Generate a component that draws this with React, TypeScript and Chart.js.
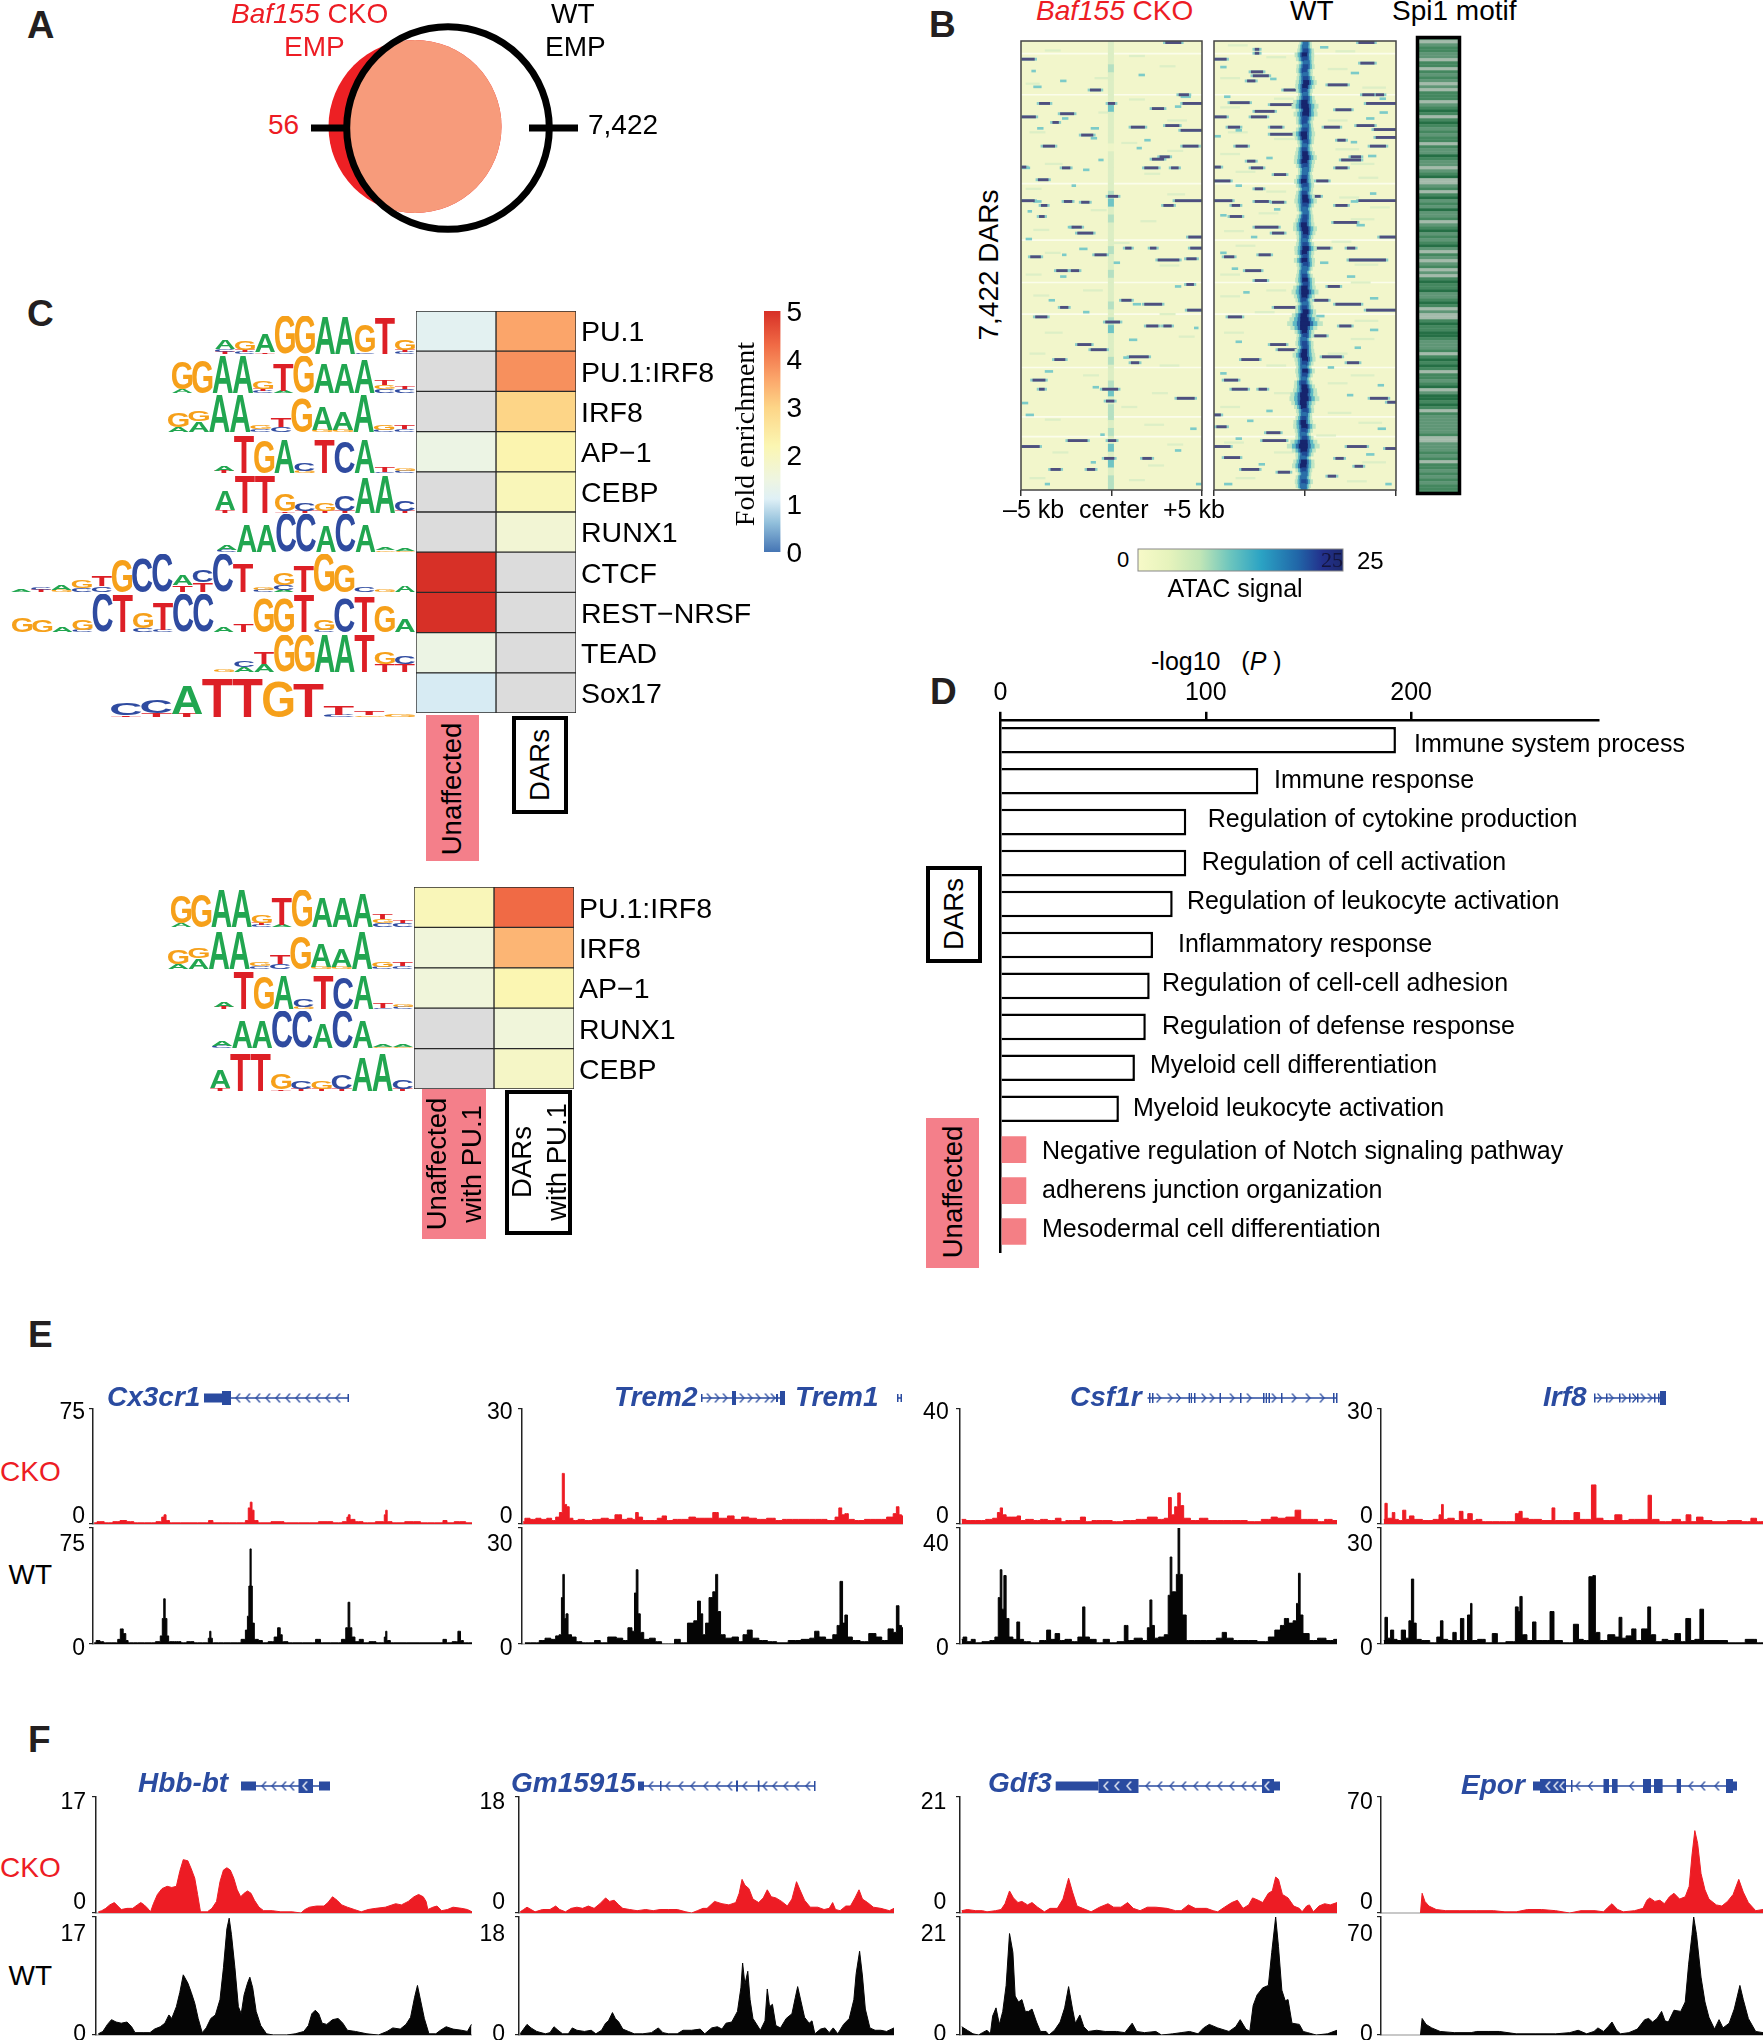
import React, { useEffect, useRef } from "react";
import { Chart, registerables } from "chart.js";
Chart.register(...registerables);

const SANS = '"Liberation Sans", Arial, sans-serif';
const SERIF = '"Liberation Serif", "Times New Roman", serif';
const RED = "#ED1C24";
const PINK = "#F47F8A";
const GENE = "#2A4BA0";
Chart.defaults.font.family = SANS;

/* ---------- A: overlap ---------- */
const vennCKO = { x: 115, y: 116.5, r: 86.5 };
const vennWT = { x: 148, y: 118, r: 101.3 };
const vennTickCKO = [[11, 118], [44, 118]];
const vennTickWT = [[229, 118], [278, 118]];

/* ---------- B: heatmap, in bins of the plot ---------- */
const ckoStreaks = [[108,615,655],[150,240,272],[228,418,445],[240,650,675],[262,285,312],[262,465,482],[262,660,708],[275,580,610],[288,340,375],[296,240,275],[310,320,335],[322,525,560],[318,615,650],[330,655,708],[342,395,425],[370,295,325],[370,660,700],[403,580,610],[397,600,625],[423,240,250],[425,345,365],[425,560,595],[425,630,648],[455,282,308],[497,465,490],[508,240,272],[510,350,370],[512,395,415],[520,610,635],[508,640,708],[520,290,305],[548,285,298],[575,370,395],[590,385,425],[600,675,708],[628,510,525],[628,575,590],[628,680,708],[645,430,460],[650,262,288],[658,595,650],[655,670,695],[685,330,358],[685,368,388],[720,670,688],[760,500,525],[770,560,605],[778,340,360],[785,672,708],[802,275,305],[815,458,495],[825,565,595],[825,610,630],[872,385,420],[885,420,460],[903,520,570],[910,325,352],[918,525,545],[962,268,300],[985,285,298],[985,450,490],[1008,645,690],[1015,460,480],[1115,360,410],[1115,465,485],[1130,240,285],[1160,455,480],[1160,555,578],[1188,315,340],[1188,410,430]];
const ckoDots = [[205,340,355],[180,265,275],[190,545,560],[220,270,290],[245,655,680],[270,640,655],[300,345,360],[325,280,295],[325,420,440],[350,420,435],[355,560,575],[375,540,552],[405,440,452],[425,240,260],[430,400,415],[470,370,380],[510,270,290],[535,255,265],[575,360,375],[605,250,265],[630,390,410],[645,345,355],[665,480,495],[700,340,355],[725,640,655],[760,310,325],[770,530,550],[790,400,415],[830,690,700],[860,520,540],[905,505,520],[940,300,320],[980,425,440],[1020,240,255],[1050,250,270],[1085,680,695],[1100,445,455],[1140,640,655],[1170,420,432],[1225,300,312],[1225,695,708]];
const ckoFaint = [[128,300,340],[142,520,560],[168,600,640],[198,430,470],[212,250,285],[252,520,560],[285,440,480],[305,620,670],[335,260,300],[362,500,540],[382,620,660],[415,300,345],[440,560,600],[478,250,290],[492,620,665],[532,420,460],[560,550,590],[582,270,310],[615,470,520],[640,300,340],[672,600,650],[695,250,290],[735,400,450],[748,270,310],[795,600,640],[842,300,345],[852,650,690],[895,260,300],[925,600,650],[950,400,440],[995,580,620],[1030,500,540],[1062,300,340],[1075,560,610],[1125,620,660],[1145,320,360],[1178,570,610],[1210,260,300],[1215,520,560]];
const ckoCenterLevels = [1,1,1,2,1,1,1,1,3,1,1,1,1,0,1,1,1,1,1,2,3,1,2,1,1,1,2,1,1,2,1,1,1,2,1,2,3,1,1,1,2,1,1,2,3,1,2,2,1,2,1,3,1,3,1,2,2];
const wtStreaks = [[108,1120,1160],[125,850,860],[135,850,860],[150,745,775],[160,1125,1160],[182,840,870],[192,845,885],[205,830,850],[215,1040,1090],[228,925,955],[240,1130,1160],[240,1165,1185],[260,785,835],[265,890,960],[262,1140,1215],[278,1060,1100],[282,850,900],[296,745,775],[296,840,880],[322,1030,1070],[318,1115,1160],[328,1160,1215],[322,780,810],[322,890,920],[340,890,960],[348,1165,1215],[355,1065,1085],[370,800,830],[370,1150,1190],[405,1075,1125],[397,1100,1125],[408,830,850],[423,745,760],[425,840,870],[425,1060,1090],[442,900,930],[458,745,785],[458,1010,1040],[478,850,870],[497,1000,1020],[508,745,790],[510,850,885],[512,895,925],[520,1060,1090],[508,1120,1215],[520,790,810],[548,785,815],[563,1055,1115],[575,850,910],[590,895,925],[600,1175,1215],[628,1000,1045],[628,1090,1110],[645,860,890],[650,770,795],[658,1095,1190],[685,825,865],[710,850,880],[725,1040,1070],[760,1005,1040],[770,1060,1125],[778,900,960],[785,1140,1215],[802,780,815],[815,955,1000],[825,1070,1100],[850,1005,1035],[872,890,930],[885,910,970],[903,1025,1075],[910,815,860],[918,1090,1120],[962,770,805],[985,790,830],[985,860,880],[1008,1150,1195],[1018,1195,1215],[1050,745,760],[1080,750,775],[1095,880,915],[1115,870,930],[1130,1090,1140],[1130,745,785],[1135,1190,1215],[1158,770,810],[1160,1060,1080],[1180,1110,1130],[1188,815,860],[1195,910,940],[1205,1040,1060]];
const wtDots = [[120,1020,1040],[170,760,775],[185,1100,1120],[200,890,905],[245,770,785],[250,1175,1190],[285,1175,1195],[300,1140,1160],[330,800,815],[345,745,760],[360,1100,1115],[395,1145,1165],[400,880,895],[470,800,815],[490,1150,1165],[510,1100,1118],[530,900,915],[545,760,775],[570,1115,1135],[600,840,855],[640,760,775],[665,1020,1040],[680,790,805],[700,1090,1110],[740,820,835],[755,1150,1170],[800,1010,1030],[835,1150,1170],[865,800,815],[880,1110,1125],[930,1040,1055],[945,760,775],[975,1170,1185],[1000,1090,1105],[1040,880,895],[1065,830,845],[1085,1170,1190],[1110,800,815],[1150,1140,1160],[1175,860,875],[1225,770,790],[1225,1190,1205]];
const wtFaint = [[115,780,830],[130,1060,1110],[145,880,930],[175,1040,1090],[198,760,810],[222,1130,1190],[250,900,950],[272,760,810],[305,1040,1090],[335,780,830],[352,900,950],[378,1060,1120],[390,760,810],[415,1100,1160],[435,800,850],[450,1120,1170],[485,880,930],[500,1070,1120],[525,1150,1200],[540,860,910],[555,1100,1160],[585,770,820],[612,1050,1100],[622,800,850],[670,1110,1170],[695,760,810],[715,1100,1150],[735,880,930],[750,760,810],[790,850,900],[812,1110,1170],[842,770,820],[858,1100,1160],[895,1040,1090],[925,880,930],[950,1100,1160],[970,1040,1090],[995,900,950],[1030,760,810],[1045,1040,1100],[1070,1120,1180],[1102,1010,1060],[1120,770,820],[1145,900,950],[1170,1130,1190],[1210,800,850],[1218,1090,1140]];
const wtCoreWidth = [8,9,11,13,12,10,12,11,10,12,14,13,11,9,12,15,18,14,16,12,11,10,12,15,13,11,9,11,13,15,14,12,10,9,11,13,12,10,11,13,15,12,10,9,11,12,14,16,13,11,10,12,15,13,11,14,12,10,9,11,13,12,15,18,14,11,10,12,14,16,20,24,18,13,11,10,12,11,13,15,14,12,10,13,11,9,12,14,16,18,20,16,13,12,10,11,13,15,12,10,12,18,22,16,12,10,14,15,11,9,10,12,10,8];
const wtCoreDrift = [1,0,1,-1,0,2,1,-1,0,1,2,0,-1,0,1,-1,0,2,1,0,-1,1,0,-2,-1,1,0,-1,0,1,-1,0,1,0,-1,-2,0,1,-1,0,1,0,-1,1,0,-1,-2,0,1,0,-1,0,1,-1,0,-1,1,0,-2,-1,0,1,-1,0,-1,-2,0,-1,1,-2,-1,0,-2,-1,0,-2,-1,0,-1,-2,0,-1,-2,0,-1,-2,-3,-1,0,-2,-1,-3,-2,0,-1,-2,-3,-1,-2,-3,-1,-2,-3,-2,-1,-3,-2,-3,-2,-1,-3,-2,-3,-2];
const paleRows = [136, 240, 465, 608, 715, 795, 930, 1055, 1105];
const motifRows = [2,3,2,1,1,2,2,3,1,1,3,1,2,1,2,3,2,3,1,1,1,3,2,1,0,1,3,1,0,1,2,1,2,1,1,3,1,2,2,0,1,2,2,3,2,1,0,3,3,2,1,3,1,0,2,1,2,0,2,2,1,3,2,1,0,2,1,2,1,0,2,3,1,2,3,2,1,3,2,3,1,0,1,1,0,2,2,1,0,1,3,2,3,3,1,0,1,1,0,0,1,2,2,2,1,3,1,0,1,0,1,3,1,1,2,1,0,3,2,0,0,1,0,1,3,1,2,2,2,2,2,2,1,3,3,2,2,2,1,2,1,3,1,1,2,1,2,1,2,1,1,1];
const motifColors = ["#256F45", "#44875F", "#5F9676", "#A4BBAB"];

/* ---------- C: enrichment ---------- */
const motifNames = ["PU.1","PU.1:IRF8","IRF8","AP−1","CEBP","RUNX1","CTCF","REST−NRSF","TEAD","Sox17"];
const unaffected = [1.2,null,null,1.45,null,null,5,5,1.45,1.05];
const dars = [3.6,3.85,3.0,2.25,2.1,1.7,null,null,null,null];
const motifNamesPU1 = ["PU.1:IRF8","IRF8","AP−1","RUNX1","CEBP"];
const unaffectedPU1 = [2.1,1.6,1.6,null,null];
const darsPU1 = [4.3,3.4,2.2,1.6,1.9];
const foldTicks = [0,1,2,3,4,5];

const logoPU1 = ["T5 C8 A22","C6 T5 G24","T4 A46","G100","G100","A100","A100","C4 G72","T95","C5 T6 G28"];
const logoPU1IRF8 = ["A10 G75","G90","A100","A100","C5 T5 G22","A5 T75","G100","A80","A82","A90","C10 G12 T15","C12 T8"];
const logoIRF8 = ["A12 G38","A28 G28","A100","A100","C8 G10","C14 T25","G90","G6 A62","G5 A48","A100","C6 G14","C8 T10"];
const logoAP1 = ["T5 A14","T100","G90","A90","G6 C22","T92","C85","A90","C4 T12","C5 G6"];
const logoCEBP = ["T8 A50","T100","T100","T4 G44","T6 C22","T6 G22","T6 C40","A92","A100","T5 C26"];
const logoRUNX1 = ["C6 A14","A72","A72","C100","C100","A68","C100","A72","G4 A6","G3 A5"];
const logoCTCF = ["A7","T5 C5","G5 A12","C10 G20","C15 T28","G85","C90","C100","T18 A28","T25 C30","C100","T75","C6 G6","A6 C12 G30","T68","G100","G72","C12","G5","A18"];
const logoREST = ["G38","G32","A14","C6 G28","C100","T100","C10 G42","C5 T70","C100","C100","A12","T20","G90","G90","T100","C5 G28","C90","T92","G68","A35"];
const logoTEAD = ["G6","A14 C16","A22 T30","G100","G100","A100","A100","T100","T22 G30","T22 C20"];
const logoSox17 = ["T4 C30","T10 C35","T8 A72","T100","T100","G90","T85","C5 T22","G4 T10","G5"];
const baseColors = { A: "#21A650", C: "#2F4BA0", G: "#F6A01A", T: "#DD1F26" };

/* ---------- D: enrichment of terms ---------- */
const goTerms = ["Immune system process","Immune response","Regulation of cytokine production","Regulation of cell activation","Regulation of leukocyte activation","Inflammatory response","Regulation of cell-cell adhesion","Regulation of defense response","Myeloid cell differentiation","Myeloid leukocyte activation","Negative regulation of Notch signaling pathway","adherens junction organization","Mesodermal cell differentiation"];
const goValues = [192.6,125.6,90.5,90.5,83.9,74.3,72.7,70.8,65.5,57.7,12.6,12.6,12.6];
const goTicks = [0,100,200];
const goLabelX = [1414,1274,1207.7,1201.7,1186.9,1178,1162,1162,1150,1133,1042,1042,1042];
const goLabelBase = [752,788,827,870,908.6,952,991,1034,1072.8,1116,1159,1198,1237];

/* ---------- E: signal, percent of scale, against bin ---------- */
const cx3cr1CKO = [[165,1],[175,2],[190,1],[205,2],[215,3],[228,2],[240,1],[265,1],[280,2],[285,6],[288,8],[292,3],[300,1],[330,1],[360,1],[368,3],[375,1],[400,1],[425,1],[431,3],[435,14],[438,19],[441,12],[445,3],[455,1],[490,2],[500,1],[540,1],[570,2],[590,1],[603,2],[606,6],[608,8],[612,4],[625,2],[640,1],[668,2],[671,8],[673,12],[676,2],[690,1],[720,2],[745,1],[768,1],[775,3],[782,1],[800,2],[822,1]];
const cx3cr1WT = [[165,1],[172,3],[178,2],[185,1],[204,1],[208,4],[213,13],[218,9],[222,3],[226,1],[240,1],[265,1],[278,2],[282,7],[285,22],[287,39],[290,22],[293,7],[296,2],[305,2],[312,2],[320,1],[332,2],[345,1],[362,1],[365,5],[367,11],[369,5],[372,1],[390,1],[415,1],[426,4],[430,12],[433,24],[435,50],[437,82],[439,50],[441,18],[446,4],[455,3],[460,1],[475,2],[481,6],[487,14],[490,8],[494,2],[510,1],[545,1],[555,4],[562,1],[590,1],[600,4],[605,14],[608,36],[611,14],[615,6],[622,2],[630,4],[636,1],[650,2],[660,1],[668,1],[671,6],[673,11],[675,3],[685,1],[730,1],[768,1],[775,4],[780,1],[795,2],[800,11],[804,3],[810,1],[822,1]];
const tremCKO = [[912,2],[918,5],[930,4],[938,5],[948,4],[958,5],[965,3],[972,6],[978,10],[982,44],[985,17],[990,15],[994,5],[1003,3],[1012,4],[1025,3],[1040,4],[1055,5],[1065,4],[1078,8],[1088,4],[1098,5],[1105,4],[1110,10],[1114,6],[1125,3],[1140,3],[1150,5],[1157,7],[1165,3],[1180,4],[1195,4],[1205,6],[1218,5],[1235,5],[1248,10],[1254,5],[1262,5],[1272,7],[1285,4],[1298,6],[1310,5],[1325,4],[1345,5],[1355,3],[1370,4],[1390,4],[1410,4],[1430,4],[1450,3],[1458,6],[1463,14],[1468,8],[1474,9],[1480,4],[1495,3],[1515,4],[1535,4],[1552,6],[1558,9],[1563,15],[1567,8],[1572,7]];
const tremWT = [[915,1],[935,1],[945,3],[955,5],[965,4],[972,7],[977,8],[980,40],[982,60],[985,22],[988,26],[992,8],[1000,6],[1008,2],[1020,1],[1030,1],[1042,3],[1050,1],[1068,6],[1080,5],[1090,3],[1098,14],[1104,11],[1107,44],[1110,64],[1113,26],[1118,10],[1125,4],[1138,5],[1145,2],[1160,0],[1170,0],[1180,4],[1190,1],[1205,18],[1212,20],[1218,37],[1222,26],[1226,8],[1232,18],[1238,40],[1245,45],[1248,60],[1252,28],[1258,8],[1268,5],[1282,6],[1290,2],[1298,8],[1305,12],[1315,5],[1328,3],[1345,2],[1360,1],[1385,3],[1405,4],[1415,5],[1422,11],[1430,6],[1445,4],[1455,8],[1460,16],[1465,54],[1469,18],[1473,25],[1478,6],[1490,3],[1505,2],[1520,9],[1530,6],[1540,3],[1552,13],[1558,10],[1563,33],[1567,16],[1572,14]];
const csf1rCKO = [[145,4],[160,3],[180,3],[195,4],[205,5],[212,10],[215,14],[220,8],[228,6],[240,6],[247,7],[252,3],[265,4],[280,3],[290,4],[305,3],[318,5],[325,2],[335,3],[350,3],[362,6],[368,2],[385,3],[405,3],[420,2],[445,3],[465,4],[485,6],[500,4],[510,5],[515,23],[520,8],[527,15],[531,27],[536,16],[543,5],[560,3],[575,5],[590,3],[610,3],[640,3],[665,2],[690,4],[700,6],[712,5],[730,6],[745,12],[750,4],[770,4],[785,2],[795,4],[812,3]];
const csf1rWT = [[145,4],[150,6],[158,2],[166,4],[172,1],[190,2],[200,3],[208,6],[212,40],[215,64],[218,30],[222,59],[226,22],[232,6],[240,4],[246,19],[250,4],[260,2],[275,1],[292,3],[300,12],[306,4],[316,9],[322,3],[335,4],[345,2],[358,6],[362,32],[366,6],[378,4],[390,1],[403,4],[412,1],[430,2],[438,16],[443,3],[460,5],[472,3],[478,14],[481,38],[485,16],[490,5],[500,6],[510,8],[514,42],[517,75],[520,45],[525,45],[528,60],[531,100],[534,60],[540,25],[548,3],[570,3],[590,3],[605,5],[611,10],[620,5],[635,3],[655,3],[685,2],[695,6],[708,12],[715,16],[722,22],[730,18],[738,20],[742,35],[745,61],[748,25],[755,9],[770,3],[785,5],[800,3],[812,4]];
const irf8CKO = [[895,4],[899,18],[903,5],[908,5],[912,10],[917,4],[925,3],[932,12],[936,4],[945,7],[952,4],[975,3],[990,4],[996,8],[999,17],[1002,4],[1015,5],[1025,3],[1033,11],[1038,4],[1050,9],[1054,3],[1063,4],[1075,2],[1100,2],[1125,2],[1132,9],[1138,11],[1143,5],[1160,4],[1190,3],[1197,14],[1200,3],[1225,3],[1240,10],[1245,4],[1262,4],[1265,34],[1270,34],[1273,5],[1295,3],[1315,8],[1320,3],[1340,4],[1360,4],[1368,25],[1372,4],[1395,2],[1418,4],[1425,2],[1438,8],[1442,2],[1458,6],[1465,3],[1490,2],[1520,3],[1540,2],[1553,5],[1560,2],[1568,2]];
const irf8WT = [[895,3],[899,23],[904,5],[910,12],[915,4],[922,3],[930,12],[937,5],[942,20],[946,56],[950,18],[955,4],[968,3],[985,1],[993,6],[998,20],[1002,4],[1015,3],[1020,10],[1027,3],[1035,22],[1039,3],[1048,25],[1050,35],[1053,3],[1070,4],[1080,1],[1095,9],[1098,1],[1125,2],[1132,32],[1135,28],[1138,41],[1143,8],[1155,3],[1163,19],[1167,3],[1185,3],[1195,28],[1199,3],[1225,1],[1238,17],[1243,4],[1255,3],[1263,58],[1269,59],[1272,10],[1285,3],[1300,8],[1310,6],[1315,23],[1320,5],[1330,7],[1340,13],[1345,3],[1360,13],[1367,32],[1370,8],[1385,2],[1393,4],[1405,3],[1418,9],[1425,2],[1437,22],[1442,3],[1452,4],[1460,30],[1465,3],[1490,3],[1520,1],[1553,4],[1560,1],[1568,1]];

/* ---------- F ---------- */
const hbbCKO = [[172,1],[178,2],[185,4],[192,7],[200,9],[206,6],[212,3],[222,4],[232,4],[240,7],[246,9],[252,7],[258,4],[263,1],[268,8],[275,16],[283,21],[292,23],[300,22],[308,23],[314,36],[320,46],[328,45],[334,38],[340,30],[345,16],[350,1],[362,1],[370,4],[378,10],[384,27],[390,37],[396,39],[402,37],[408,30],[414,20],[420,14],[426,17],[432,19],[438,17],[444,11],[452,5],[460,2],[475,2],[490,1],[510,1],[525,0],[532,3],[540,5],[552,6],[565,6],[572,9],[580,14],[588,11],[596,7],[606,5],[618,3],[630,1],[642,3],[655,4],[672,5],[690,8],[700,7],[712,10],[722,14],[730,16],[738,14],[743,10],[746,3],[755,5],[762,6],[770,2],[780,3],[790,5],[805,4],[815,3],[823,1]];
const hbbWT = [[172,1],[180,3],[188,9],[195,13],[203,11],[212,10],[222,11],[230,7],[236,2],[250,2],[262,2],[270,5],[280,7],[288,10],[295,17],[300,14],[308,24],[314,36],[320,51],[328,44],[334,36],[340,27],[346,14],[353,2],[360,6],[368,14],[376,17],[384,30],[390,57],[396,90],[400,99],[404,85],[410,57],[416,24],[421,18],[426,34],[432,44],[436,49],[441,40],[447,20],[455,8],[465,1],[477,0],[500,0],[515,1],[530,3],[538,8],[544,18],[550,21],[556,18],[562,10],[570,9],[580,13],[590,14],[598,10],[606,4],[620,3],[640,1],[660,0],[675,3],[685,6],[698,5],[708,9],[716,15],[723,32],[728,42],[734,28],[740,14],[748,1],[760,1],[768,4],[778,7],[790,5],[805,4],[815,3],[822,9]];
const gmCKO = [[906,1],[912,3],[918,5],[925,3],[932,1],[945,3],[958,3],[968,6],[975,3],[985,1],[995,4],[1005,5],[1015,4],[1025,6],[1035,4],[1045,8],[1055,13],[1062,10],[1070,11],[1078,7],[1085,4],[1097,3],[1110,2],[1125,3],[1138,2],[1150,3],[1165,3],[1180,3],[1195,1],[1205,0],[1215,2],[1225,4],[1232,4],[1245,10],[1258,8],[1270,7],[1282,9],[1288,17],[1293,29],[1298,24],[1305,21],[1312,12],[1322,9],[1330,13],[1337,20],[1344,14],[1352,13],[1362,10],[1372,6],[1380,12],[1388,27],[1394,20],[1402,11],[1412,5],[1425,5],[1436,3],[1445,4],[1451,9],[1456,3],[1464,2],[1474,6],[1482,6],[1490,13],[1497,20],[1503,12],[1512,9],[1522,5],[1535,4],[1550,2],[1558,4]];
const gmWT = [[906,1],[912,5],[918,9],[925,6],[935,3],[950,1],[958,2],[965,7],[972,4],[980,1],[990,1],[997,6],[1005,4],[1018,3],[1030,4],[1038,1],[1048,4],[1055,10],[1060,12],[1067,19],[1072,14],[1078,11],[1085,5],[1095,3],[1105,1],[1120,1],[1135,2],[1147,6],[1155,2],[1165,1],[1180,1],[1190,4],[1205,4],[1220,5],[1228,1],[1240,6],[1250,7],[1258,5],[1265,10],[1275,11],[1285,20],[1291,40],[1294,61],[1298,43],[1303,54],[1307,30],[1312,14],[1325,4],[1333,12],[1337,39],[1341,24],[1346,26],[1352,8],[1360,6],[1370,14],[1380,18],[1386,32],[1390,41],[1396,28],[1402,15],[1410,10],[1415,12],[1420,1],[1430,5],[1438,6],[1445,2],[1452,6],[1460,1],[1470,9],[1480,14],[1488,30],[1492,52],[1498,71],[1503,50],[1508,22],[1516,6],[1525,4],[1535,4],[1545,3],[1558,6]];
const gdf3CKO = [[145,2],[155,3],[170,2],[182,2],[190,1],[205,2],[215,3],[222,8],[230,19],[237,13],[245,9],[252,10],[262,7],[270,9],[280,5],[292,1],[302,4],[315,4],[325,12],[335,30],[342,18],[350,6],[360,4],[375,1],[390,5],[405,8],[415,5],[428,5],[440,9],[450,4],[462,2],[475,5],[490,5],[510,4],[525,2],[535,2],[548,7],[560,4],[572,4],[580,4],[592,2],[600,1],[612,5],[625,9],[635,11],[645,4],[655,7],[662,13],[672,11],[680,9],[690,17],[697,19],[703,31],[708,29],[715,16],[725,13],[735,6],[745,4],[750,1],[758,6],[763,7],[770,1],[780,6],[790,8],[800,7],[812,9]];
const gdf3WT = [[145,7],[155,4],[165,1],[175,0],[182,2],[190,4],[196,1],[200,16],[206,23],[212,9],[218,20],[224,42],[230,86],[236,70],[240,33],[246,28],[252,30],[258,20],[264,20],[270,22],[278,11],[285,3],[295,3],[300,0],[310,4],[320,11],[328,23],[335,41],[342,22],[347,10],[355,17],[362,7],[370,3],[385,4],[400,3],[420,3],[435,2],[448,10],[456,3],[470,2],[490,3],[500,0],[520,1],[535,2],[550,3],[565,1],[575,6],[585,9],[600,6],[620,3],[632,7],[640,13],[650,5],[657,3],[663,25],[670,34],[680,40],[690,42],[696,70],[703,100],[708,75],[714,38],[720,29],[725,30],[732,10],[745,9],[752,3],[760,2],[775,0],[795,1],[812,4]];
const eporCKO = [[960,0],[963,17],[968,10],[975,6],[988,3],[1005,2],[1030,2],[1060,2],[1090,2],[1110,1],[1130,1],[1150,3],[1175,3],[1200,2],[1225,0],[1245,2],[1270,2],[1285,1],[1293,5],[1300,8],[1310,3],[1320,1],[1340,2],[1355,4],[1362,11],[1367,13],[1376,10],[1385,11],[1393,8],[1402,14],[1410,17],[1420,12],[1430,14],[1437,23],[1442,50],[1447,71],[1452,60],[1458,34],[1465,20],[1472,12],[1485,7],[1495,6],[1505,10],[1515,16],[1525,29],[1533,18],[1542,9],[1555,2],[1568,3]];
const eporWT = [[960,0],[963,14],[970,9],[980,6],[995,3],[1020,2],[1050,2],[1060,3],[1080,3],[1100,3],[1130,1],[1165,1],[1200,1],[1225,2],[1240,4],[1255,1],[1268,3],[1275,6],[1285,3],[1293,7],[1300,11],[1308,4],[1315,1],[1330,2],[1345,5],[1358,13],[1365,14],[1372,11],[1380,14],[1388,20],[1394,12],[1400,11],[1410,21],[1422,20],[1430,28],[1436,60],[1442,85],[1445,100],[1450,85],[1458,49],[1465,28],[1472,15],[1482,5],[1490,13],[1497,6],[1508,10],[1517,22],[1527,42],[1533,30],[1542,14],[1555,3],[1568,2]];

/* gene models, in position along the row */
const geneRowE = {
  introns: [[231,348.5],[701.5,785],[897,902],[1147.5,1337],[1594,1665]],
  exonsThin: [[347.5,349,8],[701,702.5,8],[776,778,8],[897,898.5,8],[900.5,902,8],[1149,1150.5,10],[1152,1153.5,10],[1188.6,1190,10],[1190.8,1192,10],[1194,1195.5,10],[1219.5,1221,10],[1240,1241.5,10],[1263,1264.5,10],[1265.7,1267,10],[1268.5,1270,10],[1281,1282.5,10],[1333,1334.5,10],[1336,1337.5,10],[1594,1595.5,9],[1606,1607.5,9],[1619,1620.5,9],[1629,1630.5,9],[1637,1638.5,9],[1654,1655.5,9],[1658,1659.5,9]],
  exonsMid: [[204,222],[222,231]],
  exonsThick: [[222,231],[732,736],[780,785],[1660,1666]],
  left: [238,248,258,268,278,288,298,308,318,328,338],
  right: [709,717,725,742,750,758,767,773,1158.7,1170,1178.4,1203.8,1212,1232,1249,1274,1294,1308,1322,1599.6,1611,1624,1634.5,1643,1650],
  whiteLeft: [],
};
const geneRowF = {
  introns: [[256,330],[638,815],[1138.5,1262],[1566,1736]],
  exonsThin: [[660,661.5,10],[736,738,11],[757.8,759.5,11],[814,815.5,10],[1571,1572.5,12]],
  exonsMid: [[241,256],[319,330],[638,644],[1055.7,1098.5],[1274,1280],[1533,1540],[1733,1737]],
  exonsThick: [[298.5,313],[1098.5,1138.5],[1262,1274],[1540,1566],[1603.5,1609],[1612,1617.6],[1643,1651],[1654,1662.6],[1676.7,1681],[1726,1733]],
  left: [264,274,284,292,651,668,681,693,706,718,730,745,765,775,786,797,808,1148,1160,1172,1184,1196,1208,1220,1232,1244,1254,1578,1590.6,1631.7,1691,1703,1717],
  right: [],
  whiteLeft: [305,1106,1117,1129,1267,1548,1556,1562],
};

/* layout of the tracks */
const rowE = { ckoTop: 1409, ckoBase: 1523.5, wtTop: 1528, wtBase: 1643.5, stepped: "middle" };
const rowF = { ckoTop: 1797.3, ckoBase: 1913.3, wtTop: 1917.3, wtBase: 2035, stepped: false };
const tracksE = [
  { left: 93.6, right: 472.4, bin0: 163, bin1: 822, max: 75, cko: cx3cr1CKO, wt: cx3cr1WT, labelRight: 85 },
  { left: 522.4, right: 902.5, bin0: 910, bin1: 1572, max: 30, cko: tremCKO, wt: tremWT, labelRight: 512.6 },
  { left: 960, right: 1337.2, bin0: 142, bin1: 812, max: 40, cko: csf1rCKO, wt: csf1rWT, labelRight: 948.7 },
  { left: 1381, right: 1763, bin0: 890, bin1: 1568, max: 30, cko: irf8CKO, wt: irf8WT, labelRight: 1372.7 },
];
const tracksF = [
  { left: 96.4, right: 472.4, bin0: 168, bin1: 823, max: 17, cko: hbbCKO, wt: hbbWT, labelRight: 86 },
  { left: 519, right: 894.4, bin0: 904, bin1: 1558, max: 18, cko: gmCKO, wt: gmWT, labelRight: 505 },
  { left: 960, right: 1337.2, bin0: 142, bin1: 812, max: 21, cko: gdf3CKO, wt: gdf3WT, labelRight: 946.4 },
  { left: 1381, right: 1763, bin0: 890, bin1: 1568, max: 70, cko: eporCKO, wt: eporWT, labelRight: 1372.7 },
];

/* ---------- helpers ---------- */
const FOLD_STOPS = [[0,[69,117,180]],[0.6,[145,191,219]],[1.1,[223,240,246]],[1.5,[238,245,225]],[2.2,[251,246,178]],[3,[253,213,135]],[3.6,[251,165,106]],[4.3,[240,106,69]],[5,[215,48,39]]];
function foldColor(v) {
  if (v === null) return "#DCDCDC";
  for (let i = 1; i < FOLD_STOPS.length; i++) {
    const [a, ca] = FOLD_STOPS[i - 1];
    const [b, cb] = FOLD_STOPS[i];
    if (v <= b) {
      const t = (v - a) / (b - a);
      return `rgb(${ca.map((c, k) => Math.round(c + (cb[k] - c) * t)).join(",")})`;
    }
  }
  return "#D73027";
}
const noScalePad = (s) => { s.paddingTop = 0; s.paddingBottom = 0; s.paddingLeft = 0; s.paddingRight = 0; };
const framePlugin = {
  id: "frame",
  beforeDatasetsDraw(chart, _a, o) {
    if (!o.fill) return;
    const { left, top, width, height } = chart.chartArea;
    chart.ctx.save();
    chart.ctx.fillStyle = o.fill;
    chart.ctx.fillRect(left, top, width, height);
    chart.ctx.restore();
  },
  afterDatasetsDraw(chart, _a, o) {
    if (!o.width) return;
    const { left, top, width, height } = chart.chartArea;
    chart.ctx.save();
    chart.ctx.strokeStyle = o.color;
    chart.ctx.lineWidth = o.width;
    chart.ctx.strokeRect(left, top, width, height);
    chart.ctx.restore();
  },
};
const logoPlugin = {
  id: "logoLetters",
  afterDatasetsDraw(chart) {
    const ctx = chart.ctx;
    chart.data.datasets.forEach((ds, di) => {
      chart.getDatasetMeta(di).data.forEach((bar, i) => {
        const letter = ds.letters[i];
        if (!letter) return;
        const { x, y, base, width } = bar.getProps(["x", "y", "base", "width"], true);
        const h = base - y;
        if (h <= 0) return;
        ctx.save();
        ctx.font = `bold 100px ${SANS}`;
        ctx.fillStyle = baseColors[letter];
        const m = ctx.measureText(letter);
        const gw = m.actualBoundingBoxLeft + m.actualBoundingBoxRight;
        const gh = m.actualBoundingBoxAscent + m.actualBoundingBoxDescent;
        ctx.translate(x - width / 2, y);
        ctx.scale(width / gw, h / gh);
        ctx.fillText(letter, m.actualBoundingBoxLeft, m.actualBoundingBoxAscent);
        ctx.restore();
      });
    });
  },
};
const vennPlugin = {
  id: "vennOverlap",
  afterDatasetDraw(chart, args) {
    if (args.index !== 3) return;
    const a = chart.getDatasetMeta(3).data[0];
    const b = chart.getDatasetMeta(2).data[0];
    const ctx = chart.ctx;
    ctx.save();
    ctx.beginPath();
    ctx.arc(b.x, b.y, b.options.radius, 0, Math.PI * 2);
    ctx.clip();
    ctx.beginPath();
    ctx.arc(a.x, a.y, a.options.radius, 0, Math.PI * 2);
    ctx.fillStyle = "#F79B7B";
    ctx.fill();
    ctx.restore();
  },
};

function Plot({ x, y, w, h, config }) {
  const ref = useRef(null);
  useEffect(() => {
    const cfg = config();
    cfg.options = {
      animation: false,
      responsive: false,
      maintainAspectRatio: false,
      events: [],
      ...cfg.options,
      layout: { autoPadding: false, ...(cfg.options?.layout || {}) },
      plugins: { legend: { display: false }, tooltip: { enabled: false }, ...(cfg.options?.plugins || {}) },
    };
    const c = new Chart(ref.current, cfg);
    return () => c.destroy();
  }, []);
  return <canvas ref={ref} width={w} height={h} style={{ position: "absolute", left: x, top: y, width: w, height: h }} />;
}

function T({ x, y, s = 25, c = "#000", b = false, i = false, a = "l", serif = false, children }) {
  const shift = a === "r" ? "translateX(-100%)" : a === "c" ? "translateX(-50%)" : "none";
  return (
    <div style={{ position: "absolute", left: x, top: y - (serif ? 0.3375 : 0.3465) * s, lineHeight: 0, fontSize: s, color: c,
      fontWeight: b ? "bold" : "normal", fontStyle: i ? "italic" : "normal", fontFamily: serif ? SERIF : SANS, whiteSpace: "nowrap", transform: shift }}>
      {children}
    </div>
  );
}
function V({ cx, cy, s = 27.5, lh = 1.28, serif = false, children }) {
  return (
    <div style={{ position: "absolute", left: cx, top: cy, fontSize: s, lineHeight: lh, color: "#000", textAlign: "center", whiteSpace: "pre",
      fontFamily: serif ? SERIF : SANS, transform: "translate(-50%,-50%) rotate(-90deg)" }}>
      {children}
    </div>
  );
}
function Box({ x, y, w, h, fill, line }) {
  return <div style={{ position: "absolute", left: x, top: y, width: w, height: h, boxSizing: "border-box", background: fill || "transparent", border: line ? `${line}px solid #000` : "none" }} />;
}

/* ---------- configs ---------- */
function vennConfig() {
  const tick = (pts) => ({ type: "scatter", showLine: true, data: pts.map(([x, y]) => ({ x, y })), borderColor: "#000", borderWidth: 7, pointRadius: 0 });
  return {
    type: "bubble",
    data: {
      datasets: [
        tick(vennTickCKO),
        tick(vennTickWT),
        { type: "bubble", data: [vennWT], backgroundColor: "transparent", borderColor: "#000", borderWidth: 7, clip: false },
        { type: "bubble", data: [vennCKO], backgroundColor: "#ED2024", borderColor: "#ED2024", borderWidth: 0, clip: false },
      ],
    },
    options: { scales: { x: { type: "linear", min: 0, max: 290, display: false }, y: { type: "linear", min: 0, max: 240, reverse: true, display: false } } },
    plugins: [vennPlugin],
  };
}
function heatConfig(bin0, bin1, streaks, dots, faint, front, back) {
  const bars = (list) => list.map(([row, a, b]) => ({ x: [a, b], y: row }));
  const halo = (list, pad) => list.map(([row, a, b]) => ({ x: [a - pad, b + pad], y: row }));
  return {
    type: "bar",
    data: {
      datasets: [
        ...front,
        { data: bars(streaks), backgroundColor: "#4F4F7E", barThickness: 2.2 },
        { data: bars(dots), backgroundColor: "#7CCBC8", barThickness: 2 },
        { data: halo(streaks, 6), backgroundColor: "#8CCFC8", barThickness: 2.2 },
        ...back,
        { data: bars(faint), backgroundColor: "#DDEFC6", barThickness: 1.6 },
        { data: paleRows.map((r) => ({ x: [bin0, bin1], y: r })), backgroundColor: "#FBFDEB", barThickness: 1 },
      ],
    },
    options: {
      indexAxis: "y",
      datasets: { bar: { grouped: false } },
      layout: { padding: { left: 2, right: 2, top: 2, bottom: 0 } },
      scales: {
        x: {
          type: "linear", min: bin0, max: bin1,
          afterBuildTicks: (s) => { s.ticks = [{ value: bin0 }, { value: (bin0 + bin1) / 2 }, { value: bin1 }]; },
          ticks: { display: false },
          grid: { drawOnChartArea: false, tickLength: 6, color: "#333", lineWidth: 1.5 },
          border: { display: false },
          afterFit: (s) => { s.height = 8; noScalePad(s); },
        },
        y: { type: "linear", min: 104, max: 1240, reverse: true, display: false, offset: false },
      },
      plugins: { frame: { fill: "#F2F6CB", color: "#444", width: 1.5 } },
    },
    plugins: [framePlugin],
  };
}
function ckoHeat() {
  const levelColors = ["#EEF5C8", "#DCEEC4", "#B5E0C2", "#6FC4C4"];
  const centers = [{
    data: ckoCenterLevels.map((_, i) => ({ x: [465, 479], y: 114 + i * 20 })),
    backgroundColor: ckoCenterLevels.map((l) => levelColors[l]),
    barThickness: 8,
  }];
  return heatConfig(237, 710, ckoStreaks, ckoDots, ckoFaint, [], centers);
}
function wtHeat() {
  const band = (k, color) => ({
    data: wtCoreWidth.map((hw, i) => ({ x: [980 + wtCoreDrift[i] * 1.5 - hw * k, 980 + wtCoreDrift[i] * 1.5 + hw * k], y: 109 + i * 10 })),
    backgroundColor: color, barThickness: 4.2,
  });
  const coreColors = wtCoreWidth.map((hw) => (hw >= 13 ? "#16256E" : hw >= 11 ? "#1F4A94" : "#2A6FA8"));
  return heatConfig(743, 1217, wtStreaks, wtDots, wtFaint, [band(0.5, coreColors), band(0.85, "#2C6DA8"), band(1.3, "#5FBAC4"), band(1.9, "#BFE5C4")], []);
}
function motifConfig() {
  return {
    type: "bar",
    data: { labels: motifRows.map((_, i) => i), datasets: [{ data: motifRows.map(() => 1), backgroundColor: motifRows.map((m) => motifColors[m]), categoryPercentage: 1, barPercentage: 1 }] },
    options: {
      indexAxis: "y",
      layout: { padding: 2.5 },
      scales: { x: { min: 0, max: 1, display: false }, y: { display: false } },
      plugins: { frame: { color: "#000", width: 3.5 } },
    },
    plugins: [framePlugin],
  };
}
function gradientBar(horizontal, stops) {
  return (ctx) => {
    const a = ctx.chart.chartArea;
    if (!a) return "#fff";
    const g = horizontal ? ctx.chart.ctx.createLinearGradient(a.left, 0, a.right, 0) : ctx.chart.ctx.createLinearGradient(0, a.bottom, 0, a.top);
    stops.forEach(([p, c]) => g.addColorStop(p, c));
    return g;
  };
}
const atacStops = [[0, "#F7FAC8"], [0.15, "#E6F3BC"], [0.3, "#C2E6B6"], [0.45, "#6CC5BE"], [0.6, "#2BA3C4"], [0.78, "#2166A8"], [0.9, "#23308C"], [1, "#1D2A6E"]];
function atacConfig() {
  return {
    type: "bar",
    data: { labels: ["ATAC signal"], datasets: [{ data: [[0, 25]], backgroundColor: gradientBar(true, atacStops), categoryPercentage: 1, barPercentage: 1 }] },
    options: {
      indexAxis: "y", layout: { padding: 1 },
      scales: { x: { min: 0, max: 25, display: false }, y: { display: false } },
      plugins: { frame: { color: "#888", width: 1 } },
    },
    plugins: [framePlugin],
  };
}
function foldBarConfig() {
  const stops = FOLD_STOPS.map(([v]) => [v / 5, foldColor(v)]);
  return {
    type: "bar",
    data: { labels: ["Fold enrichment"], datasets: [{ data: [[0, 5]], backgroundColor: gradientBar(false, stops), categoryPercentage: 1, barPercentage: 1 }] },
    options: {
      layout: { padding: { top: 16, bottom: 16, left: 4, right: 0 } },
      scales: {
        x: { display: false },
        y: {
          position: "right", min: 0, max: 5,
          afterBuildTicks: (s) => { s.ticks = foldTicks.map((value) => ({ value })); },
          ticks: { font: { size: 28, family: SANS }, color: "#000", padding: 6, labelOffset: 2 },
          grid: { display: false, drawTicks: false }, border: { display: false },
          afterFit: (s) => { s.width = 39.5; noScalePad(s); },
        },
      },
    },
  };
}
function enrichConfig(names, left, right, padLeft, padTop) {
  return () => ({
    type: "bar",
    data: {
      labels: names,
      datasets: [
        { data: names.map(() => 1), backgroundColor: left.map(foldColor), borderColor: "#2A2A2A", borderWidth: 1, borderSkipped: false, categoryPercentage: 1, barPercentage: 1 },
        { data: names.map(() => 1), backgroundColor: right.map(foldColor), borderColor: "#2A2A2A", borderWidth: 1, borderSkipped: false, categoryPercentage: 1, barPercentage: 1 },
      ],
    },
    options: {
      indexAxis: "y",
      layout: { padding: { left: padLeft, top: padTop, bottom: 2, right: 0 } },
      scales: {
        x: { stacked: true, min: 0, max: 2, display: false },
        y: {
          stacked: true, position: "right",
          ticks: { font: { size: 28.5, family: SANS }, color: "#000", padding: 5, autoSkip: false, labelOffset: 2.5 },
          grid: { display: false, drawTicks: false }, border: { display: false },
          afterFit: (s) => { s.width = 190; noScalePad(s); },
        },
      },
    },
  });
}
function logoConfig(motif) {
  return () => {
    const cols = motif.map((c) => c.split(" ").map((t) => [t[0], Number(t.slice(1))]));
    const depth = Math.max(...cols.map((c) => c.length));
    const datasets = [];
    for (let r = 0; r < depth; r++) {
      datasets.push({
        data: cols.map((c) => (c[r] ? c[r][1] : 0)),
        letters: cols.map((c) => (c[r] ? c[r][0] : "")),
        backgroundColor: "transparent", categoryPercentage: 1, barPercentage: 1,
      });
    }
    return {
      type: "bar",
      data: { labels: motif.map((_, i) => i + 1), datasets },
      options: { scales: { x: { stacked: true, display: false }, y: { stacked: true, min: 0, max: 100, display: false } } },
      plugins: [logoPlugin],
    };
  };
}
function goConfig() {
  return {
    type: "bar",
    data: {
      labels: goTerms,
      datasets: [{
        data: goValues,
        backgroundColor: goValues.map((_, i) => (i < 10 ? "#fff" : "#F47F85")),
        borderColor: "#000",
        borderWidth: goValues.map((_, i) => (i < 10 ? 2.5 : 0)),
        categoryPercentage: 1, barPercentage: 0.65,
      }],
    },
    options: {
      indexAxis: "y",
      layout: { padding: { left: 15.4, right: 12, top: 0, bottom: 8 } },
      scales: {
        x: {
          position: "top", min: 0, max: 291,
          afterBuildTicks: (s) => { s.ticks = goTicks.map((value) => ({ value })); },
          ticks: { font: { size: 25, family: SANS }, color: "#000", padding: 4, maxRotation: 0 },
          grid: { drawOnChartArea: false, tickLength: 8, color: "#000", lineWidth: 2.5 },
          border: { color: "#000", width: 2.5 },
          afterFit: (s) => { s.height = 59.8; noScalePad(s); },
        },
        y: {
          ticks: { display: false }, grid: { display: false, drawTicks: false },
          border: { color: "#000", width: 2.5 },
          afterFit: (s) => { s.width = 0; noScalePad(s); },
        },
      },
    },
  };
}
function trackConfig(values, t, color, stepped) {
  return () => ({
    type: "line",
    data: { datasets: [{ data: values.map(([x, p]) => ({ x, y: (p * t.max) / 100 })), borderColor: color, backgroundColor: color, borderWidth: 1, pointRadius: 0, tension: 0, stepped, fill: "origin" }] },
    options: {
      layout: { padding: { top: 3, bottom: 3, left: 0, right: 0 } },
      scales: {
        x: {
          type: "linear", min: t.bin0, max: t.bin1,
          ticks: { display: false }, grid: { display: false, drawTicks: false },
          border: { color: "#C8C8C8", width: 2 },
          afterFit: (s) => { s.height = 0; noScalePad(s); },
        },
        y: {
          min: 0, max: t.max,
          afterBuildTicks: (s) => { s.ticks = [{ value: 0 }, { value: t.max }]; },
          ticks: { display: false },
          grid: { drawOnChartArea: false, tickLength: 4, color: "#222", lineWidth: 1.2 },
          border: { color: "#222", width: 1.5 },
          afterFit: (s) => { s.width = 5; noScalePad(s); },
        },
      },
    },
  });
}
function chevron(dir, color) {
  const c = document.createElement("canvas");
  c.width = 7; c.height = 10;
  const g = c.getContext("2d");
  g.strokeStyle = color; g.lineWidth = 1.2;
  g.beginPath();
  if (dir === "left") { g.moveTo(5.5, 0.5); g.lineTo(1.5, 5); g.lineTo(5.5, 9.5); }
  else { g.moveTo(1.5, 0.5); g.lineTo(5.5, 5); g.lineTo(1.5, 9.5); }
  g.stroke();
  return c;
}
function geneConfig(row) {
  return () => {
    const segs = (list) => list.flatMap(([a, b]) => [{ x: a, y: 0 }, { x: b, y: 0 }, { x: b, y: null }]);
    const exon = (list, w) => ({ type: "scatter", showLine: true, spanGaps: false, data: segs(list), borderColor: GENE, borderWidth: w, borderCapStyle: "butt", pointRadius: 0 });
    const marks = (xs, st) => ({ type: "scatter", data: xs.map((x) => ({ x, y: 0 })), pointStyle: st, pointRadius: 4, showLine: false });
    const thin = row.exonsThin.map(([a, b, h]) => exon([[a, b]], h));
    return {
      type: "scatter",
      data: {
        datasets: [
          marks(row.whiteLeft, chevron("left", "#fff")),
          marks(row.left, chevron("left", GENE)),
          marks(row.right, chevron("right", GENE)),
          exon(row.exonsThick, 14),
          exon(row.exonsMid, 9),
          ...thin,
          exon(row.introns, 1.5),
        ],
      },
      options: { scales: { x: { type: "linear", min: 0, max: 1763, display: false }, y: { min: -15, max: 15, display: false } } },
    };
  };
}

function Tracks({ list, row }) {
  return (
    <>
      {list.map((t, i) => {
        const left = Math.floor(t.left) - 5;
        const width = Math.round(t.right) - left;
        const ckoTop = Math.round(row.ckoTop) - 3;
        const wtTop = Math.round(row.wtTop) - 3;
        return (
          <React.Fragment key={i}>
            <Plot x={left} y={ckoTop} w={width} h={Math.round(row.ckoBase - row.ckoTop) + 6} config={trackConfig(t.cko, t, RED, row.stepped)} />
            <Plot x={left} y={wtTop} w={width} h={Math.round(row.wtBase - row.wtTop) + 6} config={trackConfig(t.wt, t, "#050505", row.stepped)} />
          </React.Fragment>
        );
      })}
    </>
  );
}
function ScaleNum({ right, cy, children }) {
  return (
    <div style={{ position: "absolute", left: right, top: cy, fontSize: 23, lineHeight: 1, fontFamily: SANS, color: "#000", transform: "translate(-100%,-50%)" }}>{children}</div>
  );
}
function TrackScale({ list, ys }) {
  return (
    <>
      {list.map((t, i) => (
        <React.Fragment key={i}>
          <ScaleNum right={t.labelRight} cy={ys[0]}>{t.max}</ScaleNum>
          <ScaleNum right={t.labelRight} cy={ys[1]}>0</ScaleNum>
          <ScaleNum right={t.labelRight} cy={ys[2]}>{t.max}</ScaleNum>
          <ScaleNum right={t.labelRight} cy={ys[3]}>0</ScaleNum>
        </React.Fragment>
      ))}
    </>
  );
}

const logoPlacementTop = [
  [logoPU1, 215, 316, 38], [logoPU1IRF8, 172, 356, 37], [logoIRF8, 168, 394, 38], [logoAP1, 214, 436, 37], [logoCEBP, 215, 475, 38],
  [logoRUNX1, 217, 514, 38], [logoCTCF, 11, 554, 38], [logoREST, 12, 594, 38], [logoTEAD, 214, 635, 37], [logoSox17, 111, 678, 39],
];
const logoPlacementBottom = [
  [logoPU1IRF8, 171, 890, 37], [logoIRF8, 168, 932, 37], [logoAP1, 214, 972, 37], [logoRUNX1, 212, 1011, 37], [logoCEBP, 210, 1054, 37],
];

export default function App() {
  return (
    <div style={{ position: "absolute", left: 0, top: 0, width: 1763, height: 2040, background: "#fff", overflow: "hidden", fontFamily: SANS }}>
      {/* A */}
      <T x={27} y={38} s={38} b c="#231F20">A</T>
      <Plot x={300} y={10} w={290} h={240} config={vennConfig} />
      <T x={231} y={24} s={28} c={RED}><i>Baf155</i> CKO</T>
      <T x={284} y={57} s={28} c={RED}>EMP</T>
      <T x={551} y={24} s={28}>WT</T>
      <T x={545} y={57} s={28}>EMP</T>
      <T x={268} y={135} s={28} c={RED}>56</T>
      <T x={588} y={135} s={28}>7,422</T>

      {/* B */}
      <T x={929} y={38} s={37} b c="#231F20">B</T>
      <T x={1036} y={21} s={28} c={RED}><i>Baf155</i> CKO</T>
      <T x={1290} y={21} s={28}>WT</T>
      <T x={1392} y={21} s={28}>Spi1 motif</T>
      <V cx={989} cy={265} s={28}>7,422 DARs</V>
      <Plot x={1019} y={39} w={185} h={459} config={ckoHeat} />
      <Plot x={1212} y={39} w={186} h={459} config={wtHeat} />
      <Plot x={1415} y={35} w={47} h={461} config={motifConfig} />
      <T x={1003} y={518} s={25}>–5 kb</T>
      <T x={1079} y={518} s={25}>center</T>
      <T x={1163} y={518} s={25}>+5 kb</T>
      <Plot x={1137} y={548} w={207} h={24} config={atacConfig} />
      <T x={1123} y={568} s={22} a="c">0</T>
      <T x={1321} y={567} s={22} serif c="#14143C">25</T>
      <T x={1357} y={569} s={24}>25</T>
      <T x={1235} y={597} s={25} a="c">ATAC signal</T>

      {/* C */}
      <T x={27} y={327} s={37} b c="#231F20">C</T>
      {logoPlacementTop.map(([m, x, y, h], i) => <Plot key={i} x={x} y={y} w={415 - x} h={h} config={logoConfig(m)} />)}
      <Plot x={414} y={309} w={352} h={406} config={enrichConfig(motifNames, unaffected, dars, 2, 2)} />
      <Plot x={760} y={295} w={60} h={273} config={foldBarConfig} />
      <V cx={745} cy={434} s={28} serif lh={1}>Fold enrichment</V>
      <Box x={425.5} y={715} w={53} h={146} fill={PINK} />
      <V cx={452} cy={789} s={27.5} lh={1}>Unaffected</V>
      <Box x={512} y={715.5} w={55.5} h={98} line={4} />
      <V cx={539.5} cy={765} s={27.5} lh={1}>DARs</V>
      {logoPlacementBottom.map(([m, x, y, h], i) => <Plot key={i} x={x} y={y} w={413 - x} h={h} config={logoConfig(m)} />)}
      <Plot x={412} y={885} w={352} h={206} config={enrichConfig(motifNamesPU1, unaffectedPU1, darsPU1, 2, 2)} />
      <Box x={421.7} y={1089.3} w={64.3} h={150} fill={PINK} />
      <V cx={454} cy={1164} s={27.5} lh={1.28}>{"Unaffected\nwith PU.1"}</V>
      <Box x={505} y={1090} w={67} h={145} line={4} />
      <V cx={538.5} cy={1162} s={27.5} lh={1.28}>{"DARs\nwith PU.1"}</V>

      {/* D */}
      <T x={930} y={705} s={37} b c="#231F20">D</T>
      <T x={1151} y={670} s={25}>-log10 &nbsp;&nbsp;(<i>P</i> )</T>
      <Plot x={985} y={660} w={625} h={600} config={goConfig} />
      {goTerms.map((term, i) => <T key={i} x={goLabelX[i]} y={goLabelBase[i]} s={25}>{term}</T>)}
      <Box x={926} y={865.7} w={56} h={97.6} line={4} />
      <V cx={954} cy={914} s={27.5} lh={1}>DARs</V>
      <Box x={925.8} y={1118} w={53.7} h={149.6} fill={PINK} />
      <V cx={952.5} cy={1192} s={27.5} lh={1}>Unaffected</V>

      {/* E */}
      <T x={28} y={1348} s={37} b c="#231F20">E</T>
      <Plot x={0} y={1383} w={1763} h={30} config={geneConfig(geneRowE)} />
      <T x={107} y={1406.7} s={28} b i c={GENE}>Cx3cr1</T>
      <T x={614} y={1406.7} s={28} b i c={GENE}>Trem2</T>
      <T x={795} y={1406.7} s={28} b i c={GENE}>Trem1</T>
      <T x={1070} y={1406.7} s={28} b i c={GENE}>Csf1r</T>
      <T x={1543} y={1406.7} s={28} b i c={GENE}>Irf8</T>
      <T x={0} y={1481.7} s={28} c={RED}>CKO</T>
      <T x={8.6} y={1585} s={28}>WT</T>
      <Tracks list={tracksE} row={rowE} />
      <TrackScale list={tracksE} ys={[1411, 1515, 1542.7, 1646.7]} />

      {/* F */}
      <T x={28} y={1753} s={37} b c="#231F20">F</T>
      <Plot x={0} y={1771} w={1763} h={30} config={geneConfig(geneRowF)} />
      <T x={138} y={1793} s={28} b i c={GENE}>Hbb-bt</T>
      <T x={511} y={1793} s={28} b i c={GENE}>Gm15915</T>
      <T x={988} y={1793} s={28} b i c={GENE}>Gdf3</T>
      <T x={1461} y={1795} s={28} b i c={GENE}>Epor</T>
      <T x={0} y={1878} s={28} c={RED}>CKO</T>
      <T x={8.6} y={1986} s={28}>WT</T>
      <Tracks list={tracksF} row={rowF} />
      <TrackScale list={tracksF} ys={[1800.7, 1900.7, 1932.7, 2032.7]} />
    </div>
  );
}
